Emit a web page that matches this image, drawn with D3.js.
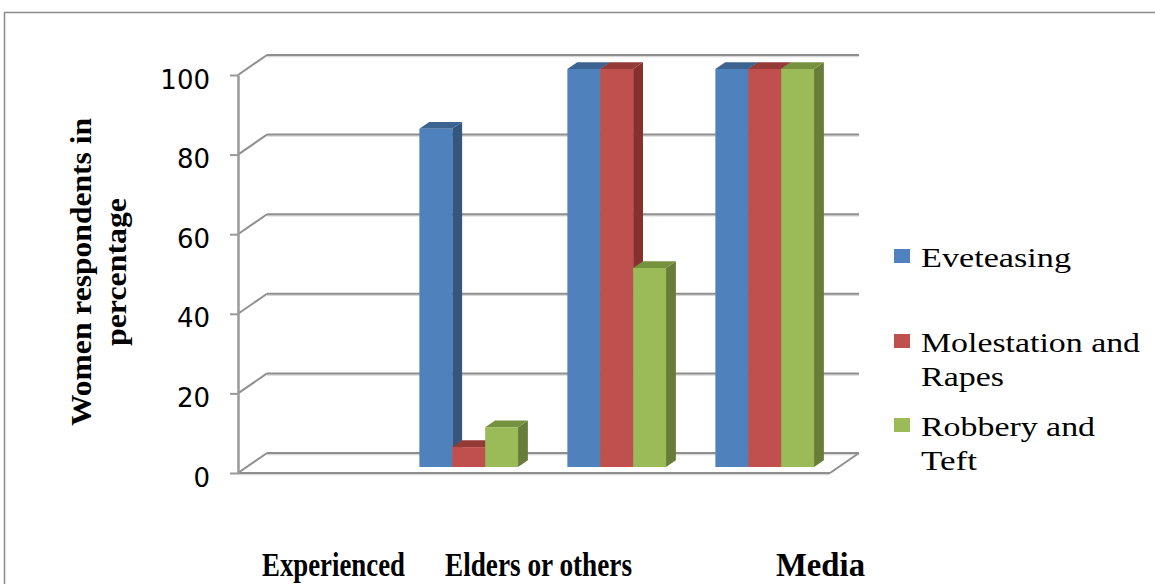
<!DOCTYPE html>
<html>
<head>
<meta charset="utf-8">
<script src="https://cdn.jsdelivr.net/npm/d3@7"></script>
<style>
  html, body { margin: 0; padding: 0; background: #fff; }
  svg { display: block; }
</style>
</head>
<body>
<svg id="chart" width="1155" height="584"></svg>
<script>
const categories = ["", "Experienced", "Elders or others", "Media"];
const seriesNames = ["Eveteasing", "Molestation and Rapes", "Robbery and Teft"];
const eveteasing = [0, 85, 100, 100];
const molestation = [0, 5, 100, 100];
const robbery = [0, 10, 50, 100];
const yTicks = [0, 20, 40, 60, 80, 100];
const xLabels = ["Experienced", "Elders or others", "Media"];
const legendLines = [["Eveteasing"], ["Molestation and", "Rapes"], ["Robbery and", "Teft"]];

const values = [eveteasing, molestation, robbery];
const colors = ["#4f81bd", "#c0504d", "#9bbb59"];
const sideColors = ["#34567f", "#87302e", "#687d3a"];
const topColors = ["#3d6391", "#943b38", "#77923f"];
const serif = "'Liberation Serif', 'Times New Roman', Times, serif";

const svg = d3.select("#chart");

// outer frame
svg.append("rect")
  .attr("x", 4.5).attr("y", 12.5)
  .attr("width", 1300).attr("height", 700)
  .attr("fill", "none").attr("stroke", "#8a8a8a").attr("stroke-width", 1.5);

// front plane + depth offset (oblique 3d)
const x = d3.scaleBand().domain(d3.range(categories.length)).range([238, 830]);
const y = d3.scaleLinear().domain([0, 100]).range([473, 75]);
const DX = 29, DY = -20;
const z0 = 0.3, dz = 0.34;

const grid = svg.append("g").attr("fill", "none");

// back wall gridlines + left wall diagonals
yTicks.forEach(v => {
  const yy = y(v);
  grid.append("line")
    .attr("x1", x.range()[0] + DX).attr("x2", x.range()[1] + DX)
    .attr("y1", yy + DY + 1.5).attr("y2", yy + DY + 1.5)
    .attr("stroke", "#d8d8d8").attr("stroke-width", 1.5);
  grid.append("line")
    .attr("x1", x.range()[0] + DX).attr("x2", x.range()[1] + DX)
    .attr("y1", yy + DY).attr("y2", yy + DY)
    .attr("stroke", "#8f8f8f").attr("stroke-width", 2);
  grid.append("line")
    .attr("x1", x.range()[0]).attr("x2", x.range()[0] + DX)
    .attr("y1", yy).attr("y2", yy + DY)
    .attr("stroke", "#8f8f8f").attr("stroke-width", 2);
});

// floor
const f0 = y(0);
grid.append("line")
  .attr("x1", x.range()[1]).attr("x2", x.range()[1] + DX)
  .attr("y1", f0).attr("y2", f0 + DY)
  .attr("stroke", "#8f8f8f").attr("stroke-width", 2);

// bars
const band = x.bandwidth();
const w = band / 4.5;
const xs = d3.scaleBand().domain(d3.range(seriesNames.length)).range([0.75 * w, 3.75 * w]);
const ddx = DX * dz, ddy = DY * dz;

const bars = svg.append("g");
categories.forEach((c, i) => {
  values.forEach((vals, s) => {
    const v = vals[i];
    if (!v) return;
    const left = x(i) + xs(s) + DX * z0;
    const right = left + w;
    const top = y(v) + DY * z0;
    const bottom = y(0) + DY * z0;
    const g = bars.append("g");
    g.append("polygon")
      .attr("points", [[right, top], [right + ddx, top + ddy], [right + ddx, bottom + ddy], [right, bottom]].join(" "))
      .attr("fill", sideColors[s]);
    g.append("polygon")
      .attr("points", [[left, top], [right, top], [right + ddx, top + ddy], [left + ddx, top + ddy]].join(" "))
      .attr("fill", topColors[s]);
    g.append("rect")
      .attr("x", left).attr("y", top)
      .attr("width", w).attr("height", bottom - top)
      .attr("fill", colors[s]);
  });
});

// floor front edge
svg.append("line")
  .attr("x1", x.range()[0]).attr("x2", x.range()[1])
  .attr("y1", f0 + 1.5).attr("y2", f0 + 1.5)
  .attr("stroke", "#d8d8d8").attr("stroke-width", 1.5);
svg.append("line")
  .attr("x1", x.range()[0]).attr("x2", x.range()[1])
  .attr("y1", f0).attr("y2", f0)
  .attr("stroke", "#8f8f8f").attr("stroke-width", 2);

// y axis
const yAxis = svg.append("g")
  .attr("transform", `translate(${x.range()[0]},0)`)
  .call(d3.axisLeft(y).tickValues(yTicks).tickSize(8).tickSizeOuter(0).tickPadding(20));
yAxis.select(".domain").attr("stroke", "#999").attr("stroke-width", 2.5);
yAxis.selectAll(".tick line").attr("stroke", "#999").attr("stroke-width", 2);
yAxis.selectAll(".tick text")
  .attr("font-family", "DejaVu Sans")
  .attr("font-size", 26)
  .attr("fill", "#000")
  .attr("dy", "0.5em");

// y axis title
const yTitle = svg.append("text")
  .attr("transform", "translate(91,272) rotate(-90)")
  .attr("text-anchor", "middle")
  .attr("font-family", serif)
  .attr("font-weight", "bold")
  .attr("font-size", 30)
  .attr("fill", "#000");
yTitle.append("tspan").attr("x", 0).attr("y", 0)
  .attr("textLength", 308).attr("lengthAdjust", "spacingAndGlyphs")
  .text("Women respondents in");
yTitle.append("tspan").attr("x", 0).attr("y", 35)
  .attr("textLength", 148).attr("lengthAdjust", "spacingAndGlyphs")
  .text("percentage");

// category labels (placed as in the source picture)
const labelPos = [[262, 143], [445, 187], [776, 89]];
xLabels.forEach((t, i) => {
  svg.append("text")
    .attr("x", labelPos[i][0]).attr("y", 576)
    .attr("font-family", serif)
    .attr("font-weight", "bold")
    .attr("font-size", 33)
    .attr("textLength", labelPos[i][1])
    .attr("lengthAdjust", "spacingAndGlyphs")
    .attr("fill", "#000")
    .text(t);
});

// legend
const legendY = [249, 334, 418];
const legendLen = [[150], [219, 83], [174, 56]];
legendLines.forEach((lines, i) => {
  const g = svg.append("g").attr("transform", `translate(894,${legendY[i]})`);
  g.append("rect").attr("width", 16).attr("height", 14).attr("fill", colors[i]);
  lines.forEach((t, j) => {
    g.append("text")
      .attr("x", 27).attr("y", 18 + j * 34)
      .attr("font-family", serif)
      .attr("font-size", 28)
      .attr("textLength", legendLen[i][j])
      .attr("lengthAdjust", "spacingAndGlyphs")
      .attr("fill", "#000")
      .text(t);
  });
});
</script>
</body>
</html>
